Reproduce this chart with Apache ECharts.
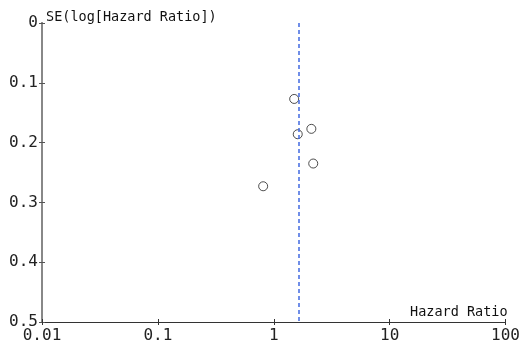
<!DOCTYPE html>
<html>
<head>
<meta charset="utf-8">
<script src="https://cdn.jsdelivr.net/npm/echarts@6/dist/echarts.min.js"></script>
<style>
  html, body { margin: 0; padding: 0; background: #fff; }
  #chart { width: 523px; height: 344px; }
</style>
</head>
<body>
<div id="chart"></div>
<script>
// study points: hazard ratio and its SE(log HR)
const hazardRatio = [1.50, 2.11, 1.61, 2.19, 0.81];
const seLogHR = [0.127, 0.177, 0.186, 0.235, 0.273];
const pooledHR = 1.63; // dashed vertical line
const xTicks = [0.01, 0.1, 1, 10, 100];
const yTicks = [0, 0.1, 0.2, 0.3, 0.4, 0.5];

const chart = echarts.init(document.getElementById('chart'));
const mono = 'DejaVu Sans Mono';

const points = hazardRatio.map((v, i) => [v, seLogHR[i]]);

const xBase = {
  type: 'log',
  logBase: 10,
  min: xTicks[0],
  max: xTicks[xTicks.length - 1],
  position: 'bottom',
  splitLine: { show: false },
  axisLine: { onZero: false, lineStyle: { color: '#333', width: 1 } }
};
const yBase = {
  type: 'value',
  inverse: true,
  min: yTicks[0],
  max: yTicks[yTicks.length - 1],
  interval: 0.1,
  position: 'left',
  splitLine: { show: false },
  axisLine: { onZero: false, lineStyle: { color: '#888', width: 2 } }
};

chart.setOption({
  animation: false,
  grid: { left: 42, right: 16, top: 23, bottom: 22, containLabel: false },
  xAxis: [
    Object.assign({}, xBase, {
      name: 'Hazard Ratio',
      nameLocation: 'end',
      nameGap: 2,
      nameTextStyle: { fontFamily: mono, fontSize: 13.5, color: '#111', align: 'right', verticalAlign: 'bottom', padding: [0, 0, 3, 0] },
      axisTick: { show: true, inside: true, length: 3, lineStyle: { color: '#333' } },
      axisLabel: {
        fontFamily: mono, fontSize: 16, color: '#222', margin: 6,
        formatter: v => String(v)
      }
    }),
    Object.assign({}, xBase, {
      axisTick: { show: true, inside: false, length: 3, lineStyle: { color: '#333' } },
      axisLabel: { show: false }
    })
  ],
  yAxis: [
    Object.assign({}, yBase, {
      name: 'SE(log[Hazard Ratio])',
      nameLocation: 'start',
      nameGap: 6,
      nameTextStyle: { fontFamily: mono, fontSize: 13.5, color: '#111', align: 'left', verticalAlign: 'middle', padding: [0, 0, 0, 4] },
      axisTick: { show: true, inside: false, length: 3, lineStyle: { color: '#555' } },
      axisLabel: {
        fontFamily: mono, fontSize: 16, color: '#222', margin: 4,
        formatter: v => String(+v.toFixed(1))
      }
    }),
    Object.assign({}, yBase, {
      axisTick: { show: true, inside: true, length: 3, lineStyle: { color: '#555' } },
      axisLabel: { show: false }
    })
  ],
  series: [
    {
      type: 'scatter',
      xAxisIndex: 0,
      yAxisIndex: 0,
      data: points,
      symbol: 'circle',
      symbolSize: 9,
      itemStyle: { color: '#fff', borderColor: '#222', borderWidth: 1 },
      markLine: {
        silent: true,
        symbol: 'none',
        label: { show: false },
        lineStyle: { color: '#4169e1', type: [4, 3], width: 1.5 },
        data: [{ xAxis: pooledHR }]
      }
    }
  ]
});
</script>
</body>
</html>
